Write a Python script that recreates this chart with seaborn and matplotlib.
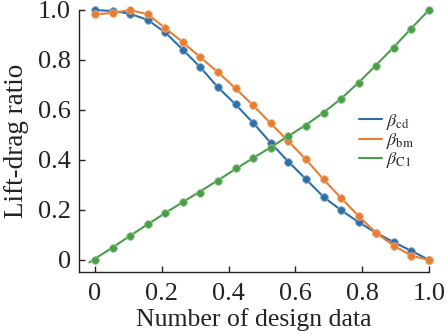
import numpy as np
import pandas as pd
import matplotlib
matplotlib.use("Agg")
import matplotlib.pyplot as plt
import seaborn as sns
from matplotlib.lines import Line2D

# ---- data ----
x_pts = [i / 19 for i in range(20)]
beta_cd = [1.0, 0.996, 0.985, 0.96, 0.91, 0.841, 0.77, 0.69, 0.622, 0.548,
           0.468, 0.393, 0.323, 0.252, 0.199, 0.151, 0.108, 0.071, 0.036, 0.0]
beta_bm = [0.983, 0.988, 1.0, 0.983, 0.927, 0.871, 0.81, 0.751, 0.686, 0.618,
           0.546, 0.475, 0.402, 0.322, 0.248, 0.175, 0.108, 0.057, 0.017, 0.0]
beta_c1 = [0.0, 0.046, 0.094, 0.143, 0.188, 0.233, 0.269, 0.315, 0.366, 0.408,
           0.448, 0.495, 0.536, 0.588, 0.642, 0.709, 0.777, 0.848, 0.925, 1.0]
c1_line_x = [-0.017] + x_pts
c1_line_y = [-0.01, 0.005, 0.05, 0.097, 0.143, 0.188, 0.232, 0.275, 0.319, 0.364,
             0.408, 0.451, 0.496, 0.54, 0.59, 0.645, 0.71, 0.78, 0.852, 0.927, 1.0]
xticks = [0, 0.2, 0.4, 0.6, 0.8, 1.0]
xtick_labels = ["0", "0.2", "0.4", "0.6", "0.8", "1.0"]
yticks = [0, 0.2, 0.4, 0.6, 0.8, 1.0]
ytick_labels = ["0", "0.2", "0.4", "0.6", "0.8", "1.0"]
labels = [r"$\beta_{\rm cd}$", r"$\beta_{\rm bm}$", r"$\beta_{\rm C1}$"]

sns.set_style("ticks")
plt.rcParams["font.family"] = ["Liberation Serif", "DejaVu Serif"]
plt.rcParams["mathtext.fontset"] = "stix"

c_blue = "#2f6fa8"
c_orange = "#e67d32"
c_green = "#4a9e48"

fig = plt.figure(figsize=(4.47, 3.35), dpi=100)
ax = fig.add_axes([79 / 447, 1 - 271.7 / 335, (429 - 79) / 447, (271.7 - 10) / 335])

df_cd = pd.DataFrame({"x": x_pts, "y": beta_cd})
df_bm = pd.DataFrame({"x": x_pts, "y": beta_bm})
df_c1 = pd.DataFrame({"x": x_pts, "y": beta_c1})
df_c1l = pd.DataFrame({"x": c1_line_x, "y": c1_line_y})

sns.lineplot(data=df_cd, x="x", y="y", ax=ax, color=c_blue, lw=1.5, marker="o",
             markersize=5.5, markeredgecolor="#7fa6c9", markeredgewidth=0.6,
             label=labels[0], clip_on=False, zorder=3)
sns.lineplot(data=df_bm, x="x", y="y", ax=ax, color=c_orange, lw=1.5, marker="o",
             markersize=5.5, markeredgecolor="#f0ab7a", markeredgewidth=0.6,
             label=labels[1], clip_on=False, zorder=3)
sns.lineplot(data=df_c1l, x="x", y="y", ax=ax, color=c_green, lw=1.5,
             label=labels[2], clip_on=False, zorder=3)
sns.scatterplot(data=df_c1, x="x", y="y", ax=ax, color=c_green, s=30,
                edgecolor="#8cc48a", linewidth=0.6, clip_on=False, zorder=4)

ax.set_xlim(-0.048, 1.0)
ax.set_ylim(-0.047, 1.0)
ax.set_xticks(xticks)
ax.set_xticklabels(xtick_labels)
ax.set_yticks(yticks)
ax.set_yticklabels(ytick_labels)
ax.tick_params(direction="in", length=4, width=1, labelsize=19, colors="#222222")
ax.tick_params(axis="x", pad=8)
ax.tick_params(axis="y", pad=6)
for s in ["top", "right"]:
    ax.spines[s].set_visible(False)
for s in ["left", "bottom"]:
    ax.spines[s].set_linewidth(1.0)
    ax.spines[s].set_color("#222222")

ax.set_xlabel("Number of design data", fontsize=18.5, labelpad=2, color="#222222")
ax.set_ylabel("Lift-drag ratio", fontsize=19.5, labelpad=6, color="#222222")

hs = [Line2D([], [], color=c, lw=1.5) for c in (c_blue, c_orange, c_green)]
ax.legend(hs, labels, loc="center left", bbox_to_anchor=(0.80, 0.50),
          frameon=False, fontsize=13, handlelength=1.3, handletextpad=0.2,
          labelspacing=-0.05, borderaxespad=0, borderpad=0)

fig.savefig("out.png", dpi=100)
